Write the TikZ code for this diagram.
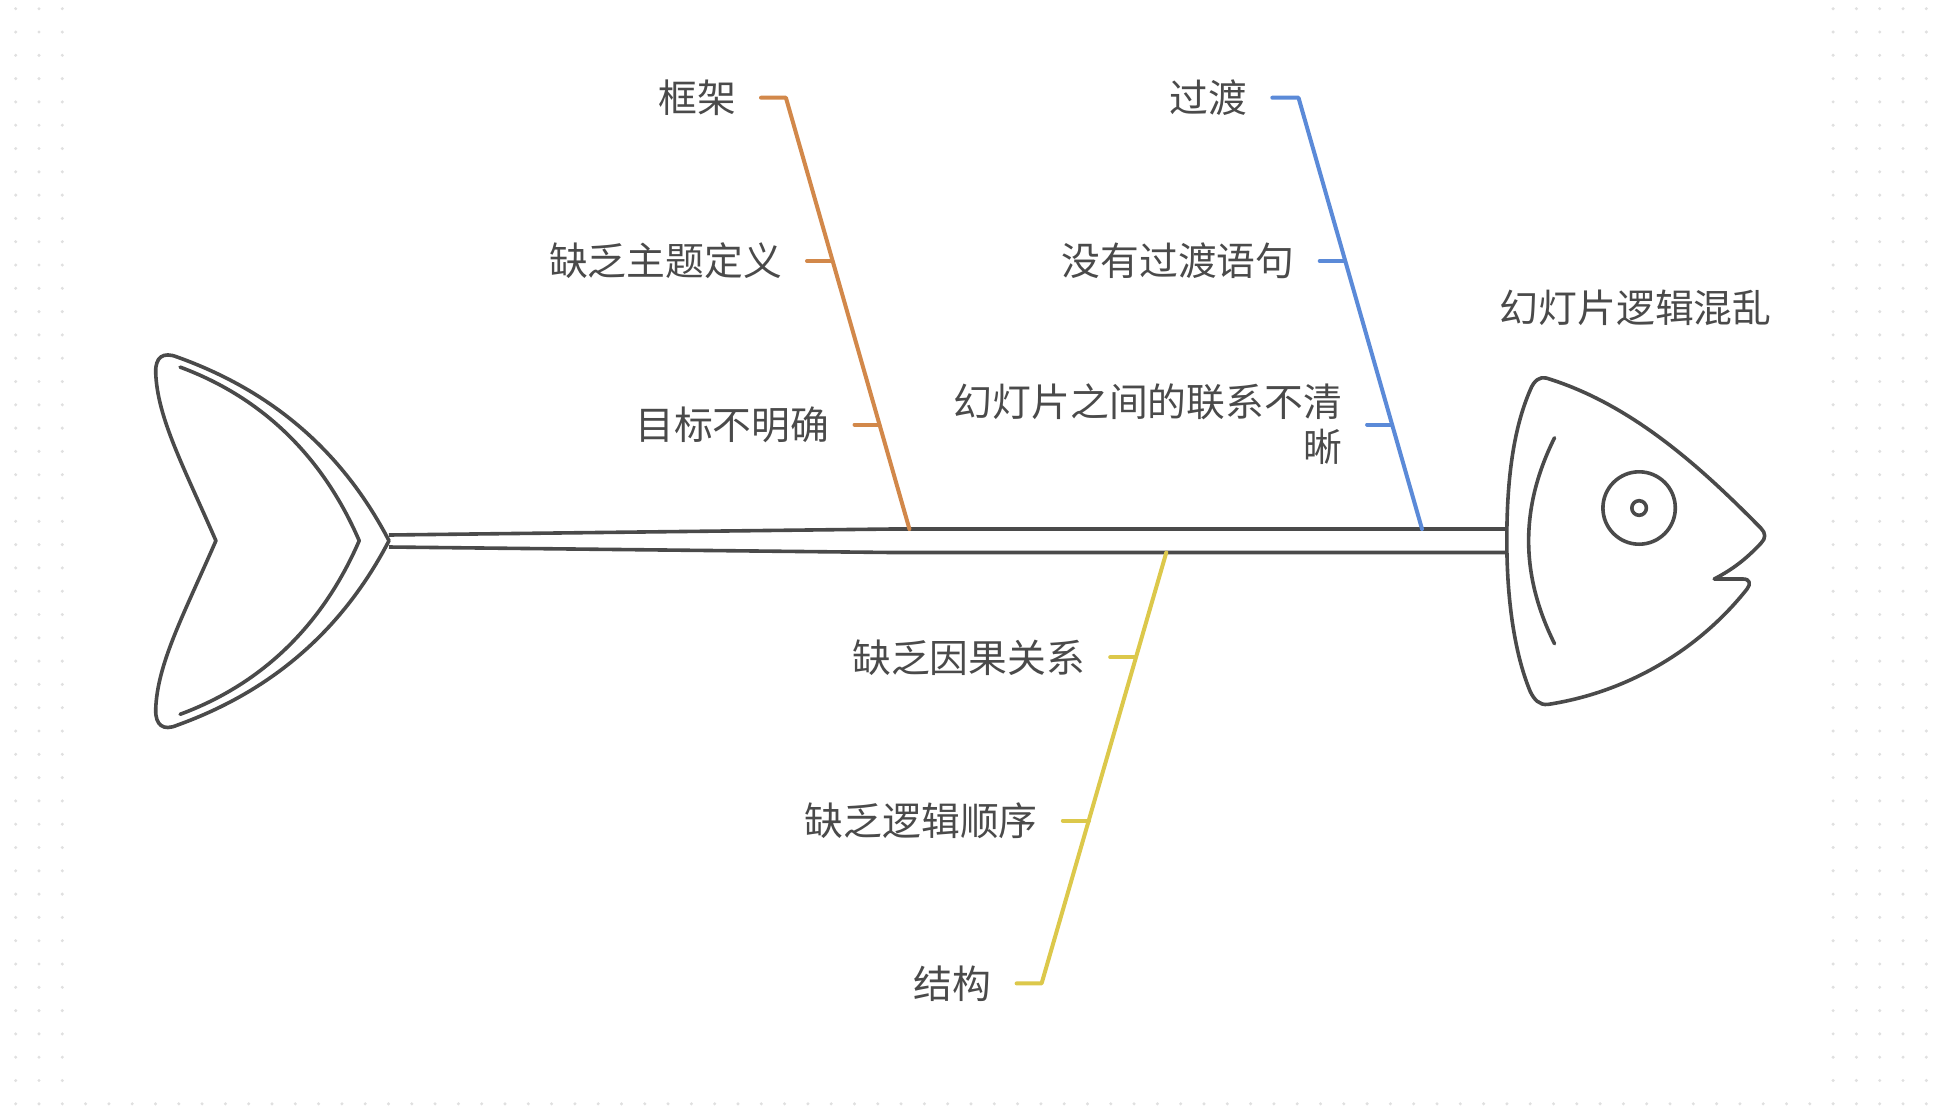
\documentclass[tikz,border=0pt]{standalone}
\usepackage{fontspec}
\setmainfont{Noto Sans CJK SC}
\usetikzlibrary{positioning}
\definecolor{fishgray}{HTML}{4A4A4A}
\definecolor{boneorange}{HTML}{D2884A}
\definecolor{boneblue}{HTML}{5B8AD8}
\definecolor{boneyellow}{HTML}{DCC84B}
\definecolor{griddot}{HTML}{E0E0E0}
\tikzset{
    fishline/.style={draw=fishgray,line width=3.6pt,line join=round,line cap=round},
    bone/.style={line width=4pt,line join=round,line cap=round},
    cause/.style={anchor=east,text=fishgray,inner xsep=25pt,inner ysep=0pt,align=right,
        font=\fontsize{38.8}{45}\selectfont}
}
\begin{document}
\begin{tikzpicture}[x=1pt,y=-1pt]
    \useasboundingbox (0,0) rectangle (1956,1106);

    % Dots
    \foreach \k in {0,1,2,78,79,80,81,82} {
        \foreach \j in {0,...,47} {
            \fill[griddot] (15.7+23.3*\k,8.7+23.3*\j) circle (1.7);
        }
    }
    \foreach \k in {3,...,77} {
        \fill[griddot] (15.7+23.3*\k,1103.8) circle (1.7);
    }

    % Tail
    \draw[fishline] (389,540.7) .. controls (343.2,452.7) and (273.6,391.5) .. (177.1,357)
        .. controls (163.2,351.5) and (155.2,357) .. (155.7,372.5)
        .. controls (157.2,417.9) and (184.1,467.6) .. (215.9,540.7)
        .. controls (184.1,613.8) and (157.2,663.5) .. (155.7,709.3)
        .. controls (155.2,725.2) and (163.2,731.2) .. (177.1,725.2)
        .. controls (273.6,690.4) and (343.2,628.7) .. (389,540.7);
    \draw[fishline] (180.1,367.1) .. controls (263.6,398) and (323.3,457.7) .. (359.2,540.7)
        .. controls (323.3,623.7) and (263.6,683.4) .. (180.1,714.3);

    % Head
    \draw[fishline] (1546.1,378) .. controls (1631.6,404) and (1701.3,467.6) .. (1761,528.3)
        .. controls (1765.9,533.3) and (1765.9,538.2) .. (1761,543.2)
        .. controls (1746,559.1) and (1733.1,569.1) .. (1714.2,579) -- (1743.1,579)
        .. controls (1750,579) and (1751,584) .. (1747,589)
        .. controls (1701.3,646.7) and (1631.6,691.5) .. (1548,704.4)
        .. controls (1539.1,705.4) and (1534.1,699.4) .. (1530.2,691.5)
        .. controls (1513.8,651.7) and (1506.8,596.9) .. (1506.8,540.2)
        .. controls (1506.8,477.6) and (1513.8,427.8) .. (1530.2,390)
        .. controls (1534.1,380) and (1540.1,376.5) .. (1546.1,378) -- cycle;
    \draw[fishline] (1554.5,437.8) .. controls (1520,507.4) and (1520,574) .. (1554.5,643.7);
    \draw[fishline] (1639.1,508) circle (36.2);
    \draw[fishline] (1639.1,508) circle (7.3);

    % Spine
    \coordinate (spineTail) at (389,535);
    \coordinate (spineTailB) at (389,547);
    \coordinate (spineMid) at (892,529);
    \coordinate (spineMidB) at (892,552.5);
    \coordinate (spineHead) at (1506.8,529);
    \coordinate (spineHeadB) at (1506.8,552.5);
    \draw[fishline,line cap=butt] (spineTail) -- (spineMid) -- (spineHead);
    \draw[fishline,line cap=butt] (spineTailB) -- (spineMidB) -- (spineHeadB);

    % Effect
    \node[text=fishgray,font=\fontsize{38.8}{45}\selectfont,inner sep=0pt] (effect) at (1635.6,308) {幻灯片逻辑混乱};

    % Causes
    \node[cause] (frame) at (761,97.7) {框架};
    \node[cause] (topic) at (807,261) {缺乏主题定义};
    \node[cause] (goal) at (854.5,424.5) {目标不明确};
    \node[cause] (transition) at (1272.3,97.7) {过渡};
    \node[cause] (sentence) at (1319.7,261) {没有过渡语句};
    \node[cause] (link) at (1367.1,424.5) {幻灯片之间的联系不清\\晰};
    \node[cause] (causal) at (1110.2,657.4) {缺乏因果关系};
    \node[cause] (order) at (1062.8,820.8) {缺乏逻辑顺序};
    \node[cause] (structure) at (1016.6,983.4) {结构};

    % Bones
    \coordinate (orangeTop) at (785.9,97.7);
    \coordinate (orangeEnd) at (909.4,529);
    \coordinate (orangeA) at (832,261);
    \coordinate (orangeB) at (879.4,424.5);
    \draw[bone,boneorange] (frame.east) -- (orangeTop) -- (orangeEnd);
    \draw[bone,boneorange] (topic.east) -- (orangeA);
    \draw[bone,boneorange] (goal.east) -- (orangeB);

    \coordinate (blueTop) at (1298.5,97.7);
    \coordinate (blueEnd) at (1422,529);
    \coordinate (blueA) at (1344.7,261);
    \coordinate (blueB) at (1392.1,424.5);
    \draw[bone,boneblue] (transition.east) -- (blueTop) -- (blueEnd);
    \draw[bone,boneblue] (sentence.east) -- (blueA);
    \draw[bone,boneblue] (link.east) -- (blueB);

    \coordinate (yellowTop) at (1166.3,552.5);
    \coordinate (yellowEnd) at (1041.6,983.4);
    \coordinate (yellowA) at (1135.1,657.4);
    \coordinate (yellowB) at (1089,820.8);
    \draw[bone,boneyellow] (yellowTop) -- (yellowEnd) -- (structure.east);
    \draw[bone,boneyellow] (causal.east) -- (yellowA);
    \draw[bone,boneyellow] (order.east) -- (yellowB);
\end{tikzpicture}
\end{document}
